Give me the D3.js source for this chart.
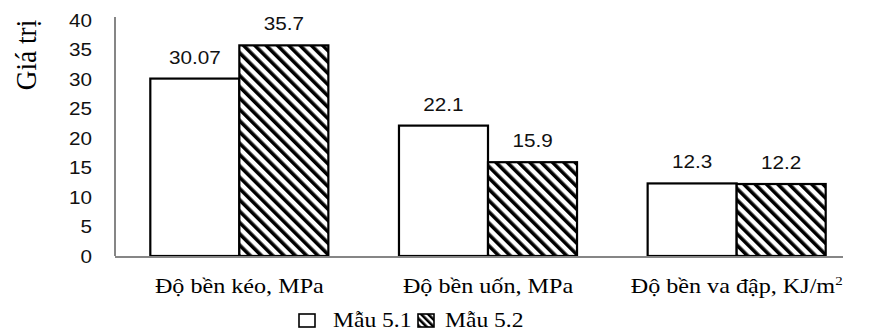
<!DOCTYPE html>
<html><head><meta charset="utf-8">
<script src="https://cdn.jsdelivr.net/npm/d3@7"></script>
<style>body{margin:0;background:#fff}svg{display:block}
.serif{font-family:"Liberation Serif","Times New Roman",serif}
.sans{font-family:"Liberation Sans",Arial,sans-serif}
</style>
</head><body>
<svg id="c" width="879" height="336"></svg>
<script>
const categories = ["Độ bền kéo, MPa", "Độ bền uốn, MPa", "Độ bền va đập, KJ/m"];
const seriesNames = ["Mẫu 5.1", "Mẫu 5.2"];
const mau51 = [30.07, 22.1, 12.3];
const mau52 = [35.7, 15.9, 12.2];
const valueLabels51 = ["30.07", "22.1", "12.3"];
const valueLabels52 = ["35.7", "15.9", "12.2"];
const yTicks = [0, 5, 10, 15, 20, 25, 30, 35, 40];

const SX = 1.15; // horizontal stretch seen in the reference text

const svg = d3.select("#c");
const defs = svg.append("defs");
const pat = defs.append("pattern").attr("id","hatch").attr("patternUnits","userSpaceOnUse")
  .attr("width",8).attr("height",8).attr("patternTransform","rotate(-45)");
pat.append("rect").attr("width",8).attr("height",8).attr("fill","#fff");
pat.append("rect").attr("x",0).attr("y",0).attr("width",3.6).attr("height",8).attr("fill","#000");

const x0 = d3.scaleBand().domain(categories).range([115, 861]).paddingInner(0.284).paddingOuter(0.142);
const x1 = d3.scaleBand().domain(seriesNames).range([0, x0.bandwidth()]);
const y = d3.scaleLinear().domain([0, 40]).range([256, 20]);

// y axis
const gy = svg.append("g").attr("transform","translate(115,0)")
  .call(d3.axisLeft(y).tickValues(yTicks).tickSize(0).tickPadding(0));
gy.attr("font-family",null).attr("font-size",null);
gy.select(".domain").attr("stroke","#868686").attr("stroke-width",2).attr("d","M0,17V256");
gy.selectAll(".tick text").attr("class","sans").attr("x",0).attr("dy","0.35em")
  .attr("transform",`translate(-23,0) scale(${SX},1)`)
  .style("font-size","18px").attr("fill","#111");

const data = categories.map((c,i)=>({c, vals:[{s:seriesNames[0],v:mau51[i],l:valueLabels51[i]},{s:seriesNames[1],v:mau52[i],l:valueLabels52[i]}]}));

const g = svg.selectAll("g.grp").data(data).join("g").attr("class","grp")
  .attr("transform",d=>`translate(${x0(d.c)},0)`);
g.selectAll("rect").data(d=>d.vals).join("rect")
  .attr("x",d=>x1(d.s)).attr("width",x1.bandwidth())
  .attr("y",d=>y(d.v)).attr("height",d=>y(0)-y(d.v))
  .attr("fill",(d,i)=>i===0?"#fff":"url(#hatch)")
  .attr("stroke","#000").attr("stroke-width",2.2);
g.selectAll("text.val").data(d=>d.vals).join("text").attr("class","val sans")
  .attr("transform",d=>`translate(${x1(d.s)+x1.bandwidth()/2},${y(d.v)-15}) scale(${SX},1)`)
  .attr("text-anchor","middle")
  .style("font-size","18px").attr("fill","#111").text(d=>d.l);

// baseline
svg.append("line").attr("x1",115).attr("x2",843).attr("y1",y(0)+1).attr("y2",y(0)+1)
  .attr("stroke","#868686").attr("stroke-width",2.2);

// category labels
const cl = svg.selectAll("text.cat").data(categories).join("text").attr("class","cat serif")
  .attr("transform",d=>`translate(${x0(d)+x0.bandwidth()/2},293) scale(${SX},1)`)
  .attr("text-anchor","middle")
  .style("font-size","21px").attr("fill","#000");
cl.each(function(d,i){
  const t=d3.select(this);
  t.append("tspan").text(d);
  if(i===2) t.append("tspan").attr("dy",-8).style("font-size","13px").text("2");
});

// y label
svg.append("text").attr("class","serif").attr("transform","translate(36,55) rotate(-90) scale(1.05,1.1)")
  .attr("text-anchor","middle")
  .style("font-size","26px").attr("fill","#000").text("Giá trị");

// legend
const lp = defs.append("pattern").attr("id","hatch2").attr("patternUnits","userSpaceOnUse")
  .attr("width",5).attr("height",5).attr("patternTransform","rotate(-45)");
lp.append("rect").attr("width",5).attr("height",5).attr("fill","#fff");
lp.append("rect").attr("width",2.6).attr("height",5).attr("fill","#000");
const legend = svg.append("g").attr("transform","translate(299,327)");
const items = legend.selectAll("g").data(seriesNames).join("g")
  .attr("transform",(d,i)=>`translate(${i*119},0)`);
items.append("rect").attr("x",0).attr("y",-13).attr("width",16).attr("height",13)
  .attr("fill",(d,i)=>i===0?"#fff":"url(#hatch2)").attr("stroke","#000").attr("stroke-width",1.6);
items.append("text").attr("class","serif").attr("transform",(d,i)=>`translate(${i===0?34:27},0) scale(${SX},1)`)
  .style("font-size","20.5px").attr("fill","#000").text(d=>d);
</script>
</body></html>
